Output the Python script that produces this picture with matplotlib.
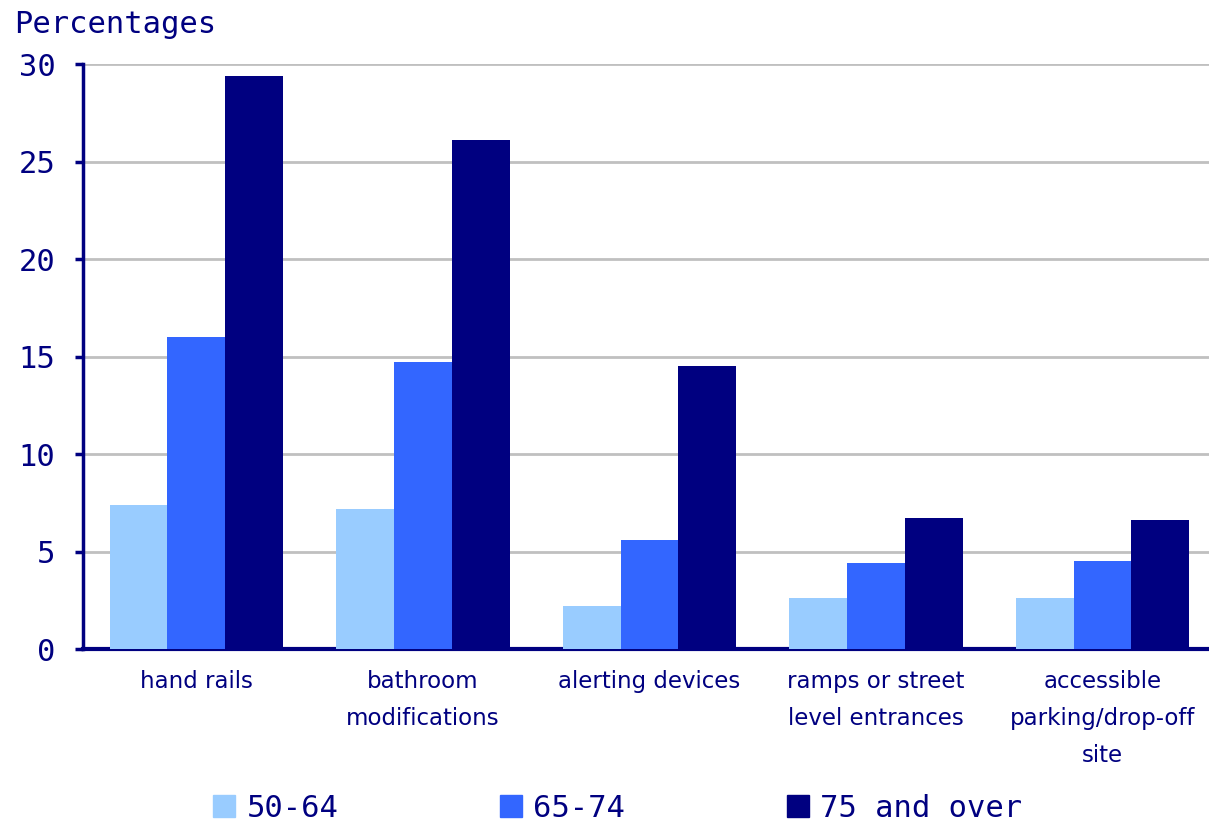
import numpy as np
import matplotlib
matplotlib.use('Agg')
import matplotlib.pyplot as plt
from matplotlib.patches import Patch

# データ
categories = ['hand rails', 'bathroom\nmodifications', 'alerting devices',
              'ramps or street\nlevel entrances', 'accessible\nparking/drop-off\nsite']
groups = ['50-64', '65-74', '75 and over']
vals_50_64 = [7.4, 7.2, 2.2, 2.6, 2.6]
vals_65_74 = [16.0, 14.7, 5.6, 4.4, 4.5]
vals_75_over = [29.4, 26.1, 14.5, 6.7, 6.6]
yticks = [0, 5, 10, 15, 20, 25, 30]

navy = '#000080'
colors = ['#99CCFF', '#3366FF', '#000080']
mono = 'DejaVu Sans Mono'

fig = plt.figure(figsize=(12.09, 8.23), dpi=100)
ax = fig.add_axes([0.0687, 0.2114, 0.9313, 0.7108])

x = np.arange(len(categories))
w = 0.255
for i, (vals, c) in enumerate(zip([vals_50_64, vals_65_74, vals_75_over], colors)):
    ax.bar(x + (i - 1) * w, vals, w, color=c, zorder=3)

ax.set_xlim(-0.5, 4.47)
ax.set_ylim(0, 30)
ax.set_yticks(yticks)
ax.yaxis.grid(True, color='#C0C0C0', lw=2, zorder=0)
ax.set_axisbelow(True)

for s in ['top', 'right']:
    ax.spines[s].set_visible(False)
ax.spines['left'].set_color(navy)
ax.spines['left'].set_linewidth(2.5)
ax.spines['bottom'].set_color(navy)
ax.spines['bottom'].set_linewidth(3)

ax.set_xticks(x)
ax.set_xticklabels(categories, fontsize=16.5, color=navy, linespacing=1.78, va='top')
ax.tick_params(axis='x', length=0, pad=15)
ax.tick_params(axis='y', colors=navy, labelsize=22, length=6, width=2.5, pad=14)
for t in ax.get_yticklabels():
    t.set_family(mono)

fig.text(0.012, 0.96, 'Percentages', fontsize=22, color=navy, ha='left',
         va='baseline', family=mono)

handles = [Patch(color=c) for c in colors]
leg = fig.legend(handles, groups, loc='center', bbox_to_anchor=(0.511, 0.018),
                 ncol=3, frameon=False, prop={'family': mono, 'size': 22},
                 handlelength=0.72, handleheight=0.75, handletextpad=0.36,
                 columnspacing=5.3)
for t in leg.get_texts():
    t.set_color(navy)

plt.savefig('out.png', dpi=100, facecolor='white')
plt.close()
